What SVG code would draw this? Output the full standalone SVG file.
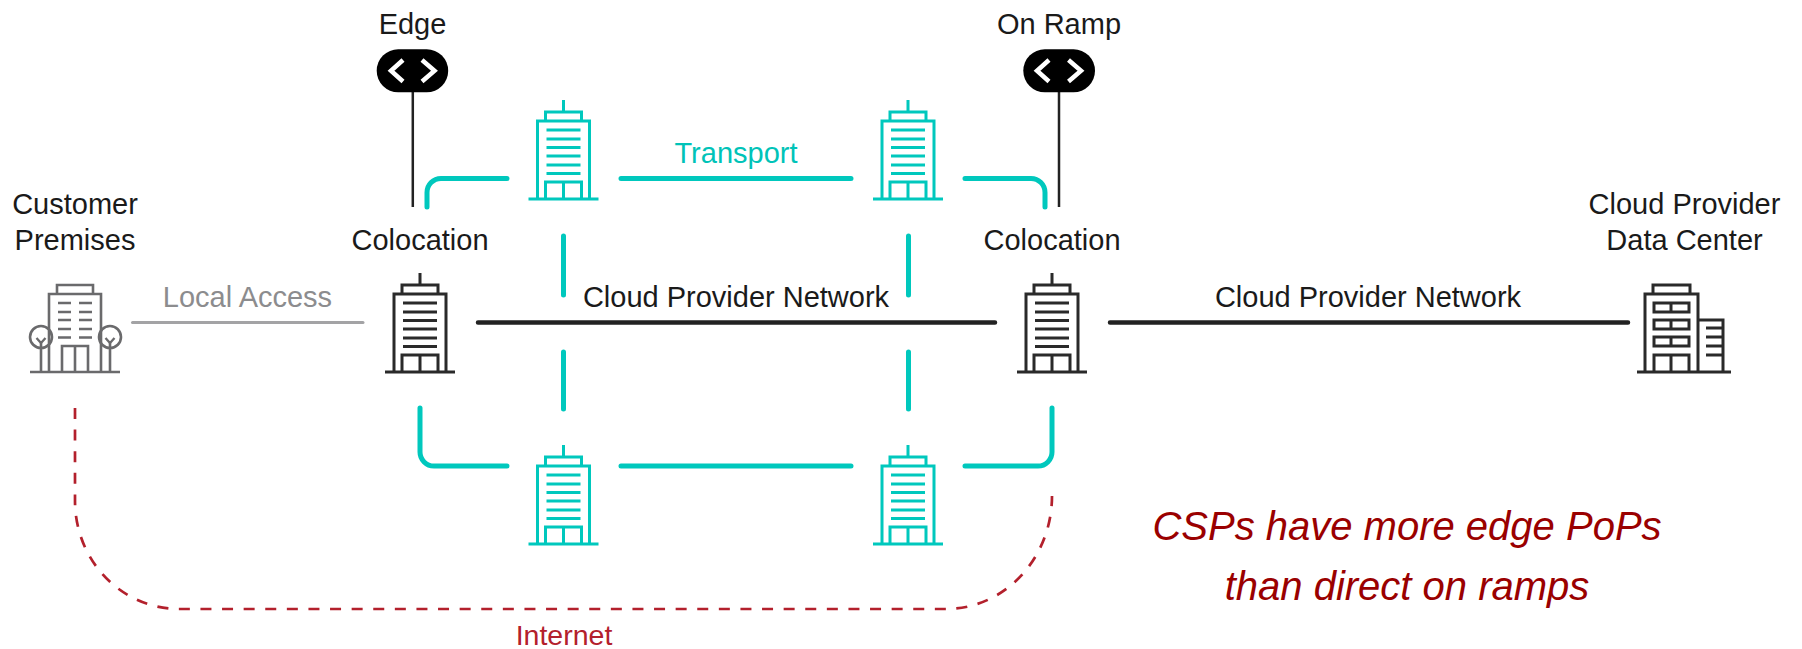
<svg xmlns="http://www.w3.org/2000/svg" xmlns:xlink="http://www.w3.org/1999/xlink" width="1802" height="649" viewBox="0 0 1802 649">
<style>
text{font-family:"Liberation Sans",Arial,sans-serif;font-size:29px;text-anchor:middle;fill:#1a1a1a}
.ic{fill:none;stroke-width:3}
.k{stroke:#2a2a2a}
.t{stroke:#00c8bd}
.tl{fill:none;stroke:#00c8bd;stroke-width:5;stroke-linecap:round}
.bl{fill:none;stroke:#222;stroke-width:4.5;stroke-linecap:round}
.thin{fill:none;stroke:#222;stroke-width:2.5}
.chev{fill:none;stroke:#fff;stroke-width:4.500}
.gray{fill:#8c8c8e}
.teal{fill:#00c3b8}
.red{fill:#b3202c;font-size:28.500px}
.note{fill:#9a0000;font-size:40px;font-style:italic}
</style>
<defs>
<g id="tower" class="ic">
<path d="M0 0V12M-18 21V12H18V21M-26 99V21H26V99M-35 99H35M-18 99V82H18V99M0 82V99"/>
<path d="M-17 30H17M-17 39H17M-17 47.500H17M-17 56H17M-17 65H17M-17 73.500H17"/>
</g>
</defs>
<g id="connectors">
<path d="M132.500 322.500H363" fill="none" stroke="#a3a3a5" stroke-width="3" stroke-linecap="round"/>
<path class="bl" d="M478 322.500H995M1110 322.500H1628"/>
<path class="tl" d="M427 207V192.500A14 14 0 0 1 441 178.500H507M621 178.500H851M965 178.500H1031A14 14 0 0 1 1045 192.500V207"/>
<path class="tl" d="M563.500 236V295M563.500 352V409M908.500 236V295M908.500 352V409"/>
<path class="tl" d="M420 408V452A14 14 0 0 0 434 466H507M621 466H851M965 466H1038A14 14 0 0 0 1052 452V408"/>
<path d="M75 408V501A104 108 0 0 0 179 609H946A106 113 0 0 0 1052 496" fill="none" stroke="#b3202c" stroke-width="2.700" stroke-dasharray="11 10.600"/>
<path class="thin" d="M412.800 90V207M1059 90V207"/>
</g>
<g id="edge"><text x="412.500" y="34">Edge</text><rect x="376.700" y="49.300" width="71.500" height="43" rx="21.500" fill="#000"/><path class="chev" d="M403 60L391 70.800L403 81.500M422 60L434.500 70.800L422 81.500"/></g>
<g id="onramp"><text x="1059" y="34">On Ramp</text><rect x="1023.300" y="49.300" width="71.700" height="43" rx="21.500" fill="#000"/><path class="chev" d="M1049 60L1037 70.800L1049 81.500M1068.500 60L1081 70.800L1068.500 81.500"/></g>
<g id="customer" class="ic" style="stroke:#6a6a6c">
<path d="M57 294V285H93V294M49 372V294H101V372M30 372H120M62 372V346H88V372M75 346V372M41 343V372M110 343V372" stroke-width="2.600"/>
<circle cx="41" cy="337" r="11" stroke-width="2.600"/><circle cx="110" cy="337" r="11" stroke-width="2.600"/>
<path stroke-width="2.300" d="M36.500 338L41 343L45.500 338M105.500 338L110 343L114.500 338M58 303H71M79 303H92M58 312H71M79 312H92M58 320H71M79 320H92M58 329H71M79 329H92M58 337.500H71M79 337.500H92"/>
</g>
<g id="customer-label"><text x="75" y="213.500">Customer</text><text x="75" y="249.500">Premises</text></g>
<g id="colo-left"><text x="420" y="249.500">Colocation</text><use xlink:href="#tower" href="#tower" x="420" y="273" class="k"/></g>
<g id="colo-right"><text x="1052" y="249.500">Colocation</text><use xlink:href="#tower" href="#tower" x="1052" y="273" class="k"/></g>
<g id="teal-1"><use xlink:href="#tower" href="#tower" x="563.500" y="100" class="t"/></g>
<g id="teal-2"><use xlink:href="#tower" href="#tower" x="908" y="100" class="t"/></g>
<g id="teal-3"><use xlink:href="#tower" href="#tower" x="563.500" y="445" class="t"/></g>
<g id="teal-4"><use xlink:href="#tower" href="#tower" x="908" y="445" class="t"/></g>
<g id="cloud-dc" class="ic" style="stroke:#2a2a2a">
<path d="M1653 294V285H1690V294M1645 372V294H1698V372M1637 372H1731M1654 372V355H1689V372M1671 355V372M1698 320H1723V372"/>
<path d="M1654 303H1689V312H1654ZM1654 320H1689V329H1654ZM1654 337H1689V346H1654ZM1671 303V312M1671 320V329M1671 337V346M1706 328H1723M1706 337H1723M1706 346H1723M1706 355H1723"/>
</g>
<g id="cloud-label"><text x="1684.500" y="213.500">Cloud Provider</text><text x="1684.500" y="249.500">Data Center</text></g>
<text class="gray" x="247.500" y="307">Local Access</text>
<text x="736" y="307">Cloud Provider Network</text>
<text x="1368" y="307">Cloud Provider Network</text>
<text class="teal" x="736" y="163">Transport</text>
<text class="red" x="564" y="645">Internet</text>
<text class="note" x="1407" y="540">CSPs have more edge PoPs</text>
<text class="note" x="1407" y="600">than direct on ramps</text>
</svg>
